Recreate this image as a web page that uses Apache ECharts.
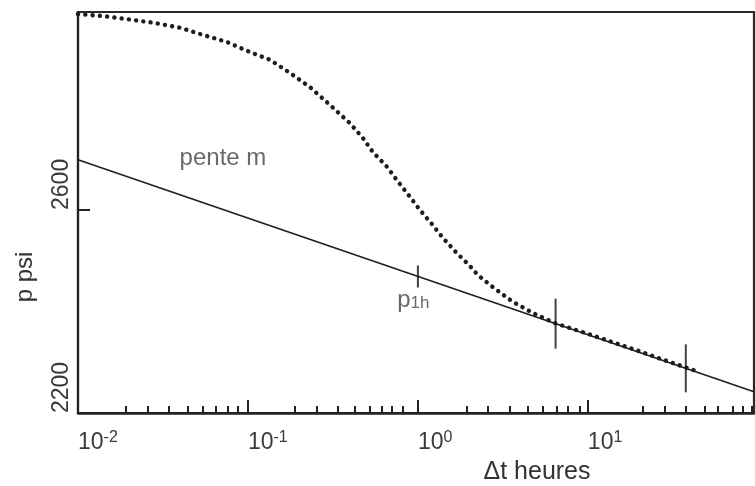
<!DOCTYPE html>
<html><head><meta charset="utf-8">
<script src="https://cdn.jsdelivr.net/npm/echarts@6/dist/echarts.min.js"></script>
<style>html,body{margin:0;padding:0;background:#fff}#c{width:755px;height:486px}</style>
</head><body><div id="c"></div>
<script>
// ---- data ----
const xMajorTicks = [0.01, 0.1, 1, 10];
const xTickExponents = ['-2', '-1', '0', '1'];
const xMinorTicks = [0.0192, 0.0258, 0.0343, 0.0444, 0.0544, 0.0648, 0.0763, 0.0873,
                     0.189, 0.255, 0.338, 0.426, 0.522, 0.614, 0.703, 0.817,
                     1.94, 2.58, 3.47, 4.44, 5.43, 6.58, 7.62, 8.97,
                     21.1, 28.4, 37.7, 48.8, 58.2, 71.3, 81.7, 92.2];
const yTickLabels = [2200, 2600];
const yTickMarks = [2600];
const xRange = [0.01, 95];
const yRange = [2200, 2990];

// straight semilog line (slope m)
const lineT = [0.01, 95];
const lineP = [2699, 2242];

// measured (dotted) buildup curve
const curveT = [0.01, 0.01403, 0.0194, 0.0276, 0.0398, 0.0543, 0.0752, 0.1028, 0.1345, 0.1766,
                0.2317, 0.3034, 0.398, 0.474, 0.543, 0.658, 0.751, 0.897, 1.028, 1.225,
                1.403, 1.695, 2.02, 2.25, 2.76, 3.62, 4.75, 6.4, 10, 20, 30, 45];
const curveP = [2986, 2982, 2976, 2969, 2959, 2945, 2931, 2911, 2896, 2870,
                2842, 2807, 2771, 2742, 2714, 2685, 2659, 2626, 2600, 2570,
                2545, 2515, 2490, 2472, 2448, 2419, 2397, 2377, 2356, 2322, 2301, 2281];

// vertical marks on the straight line
const markT = [1, 6.46, 37.7];
const markP = [2469, 2376, 2288];

// text annotations
const annotText = ['pente m', 'p1h'];
const annotT = [0.0713, 0.94];
const annotP = [2702, 2416];

// ---- chart ----
const FONT = 'Liberation Sans, Arial, sans-serif';
const markSizes = [[2, 22], [2, 50], [2, 48]];
const zip = (a, b) => a.map((v, i) => [v, b[i]]);
const expOf = v => xTickExponents[xMajorTicks.findIndex(t => Math.abs(t - v) / t < 1e-6)];

const chart = echarts.init(document.getElementById('c'), null, {renderer: 'canvas'});
chart.setOption({
  animation: false,
  backgroundColor: '#fff',
  grid: {left: 78, right: 1, top: 12, bottom: 73, show: true, borderColor: '#2a2a2a', borderWidth: 2.2, backgroundColor: 'transparent'},
  xAxis: [
    {
      type: 'log', logBase: 10, min: xRange[0], max: xRange[1], gridIndex: 0, position: 'bottom',
      axisLine: {show: true, lineStyle: {color: '#222', width: 2.5}},
      axisTick: {show: true, inside: true, length: 13, lineStyle: {color: '#222', width: 2}, customValues: xMajorTicks},
      axisLabel: {
        show: true, margin: 17, align: 'left', color: '#333',
        customValues: xMajorTicks,
        formatter: v => '{b|10}{s|' + expOf(v) + '}',
        rich: {
          b: {fontSize: 23, fontFamily: FONT, color: '#3a3a3a', lineHeight: 26},
          s: {fontSize: 16, fontFamily: FONT, color: '#3a3a3a', verticalAlign: 'top', lineHeight: 15}
        }
      },
      splitLine: {show: false}, minorTick: {show: false}
    },
    {
      type: 'log', logBase: 10, min: xRange[0], max: xRange[1], gridIndex: 0, position: 'bottom',
      axisLine: {show: false},
      axisTick: {show: true, inside: true, length: 7, lineStyle: {color: '#222', width: 2}, customValues: xMinorTicks},
      axisLabel: {show: false},
      splitLine: {show: false}
    }
  ],
  yAxis: {
    type: 'value', min: yRange[0], max: yRange[1], interval: 400,
    axisLine: {show: true, lineStyle: {color: '#222', width: 2.2}},
    axisTick: {show: true, inside: true, length: 12, lineStyle: {color: '#222', width: 2}, customValues: yTickMarks},
    axisLabel: {
      show: true, rotate: 90, align: 'left', verticalAlign: 'bottom', margin: 5,
      customValues: yTickLabels, formatter: v => String(v),
      color: '#3a3a3a', fontSize: 23, fontFamily: FONT
    },
    splitLine: {show: false}
  },
  series: [
    {
      type: 'line', name: 'droite', xAxisIndex: 0, data: zip(lineT, lineP),
      showSymbol: false, symbol: 'none',
      lineStyle: {color: '#1e1e1e', width: 1.7}, z: 3
    },
    {
      type: 'line', name: 'mesures', xAxisIndex: 0, data: zip(curveT, curveP),
      smooth: false, showSymbol: false, symbol: 'none',
      lineStyle: {color: '#1e1e1e', width: 4.4, type: [0.1, 7.2], cap: 'round', join: 'round'}, z: 4
    },
    {
      type: 'scatter', name: 'marks', xAxisIndex: 0,
      data: zip(markT, markP).map((d, i) => ({value: d, symbolSize: markSizes[i]})),
      symbol: 'rect', itemStyle: {color: '#111'}, z: 5
    },
    {
      type: 'scatter', name: 'annotations', xAxisIndex: 0, symbolSize: 0,
      data: zip(annotT, annotP).map((d, i) => ({value: d, name: annotText[i]})),
      label: {
        show: true, position: 'inside', color: '#444',
        fontFamily: FONT, fontSize: 24,
        formatter: p => p.name === 'p1h' ? '{a|p}{c|1h}' : p.name,
        rich: {
          a: {fontSize: 24, color: '#444', fontFamily: FONT, padding: [0, 0, 6, 0]},
          c: {fontSize: 17, color: '#444', fontFamily: FONT}
        }
      },
      z: 6
    }
  ],
  graphic: [
    {type: 'text', x: 25, y: 277, rotation: Math.PI / 2,
     style: {text: 'p psi', fontSize: 24, fill: '#333', fontFamily: FONT, align: 'center', verticalAlign: 'middle'}},
    {type: 'text', x: 537, y: 472,
     style: {text: '\u0394t heures', fontSize: 25, fill: '#333', fontFamily: FONT, align: 'center', verticalAlign: 'middle'}}
  ]
});
</script>
</body></html>
